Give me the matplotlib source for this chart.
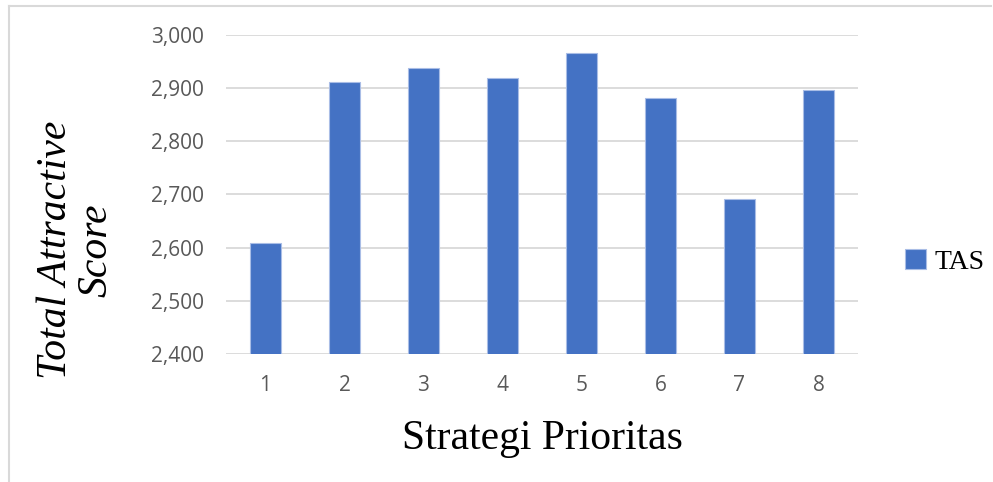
import matplotlib.pyplot as plt
from matplotlib.lines import Line2D

strategies = ['1', '2', '3', '4', '5', '6', '7', '8']
tas = [2609, 2911, 2938, 2919, 2967, 2881, 2692, 2896]
yticks = [2400, 2500, 2600, 2700, 2800, 2900, 3000]

W, H = 993, 482
fig = plt.figure(figsize=(W / 100, H / 100), dpi=100)
ax = fig.add_axes([226 / W, 1 - 354 / H, 632 / W, 319 / H])

bars = ax.bar(range(len(tas)), tas, width=0.4, color='#4472C4',
              edgecolor='#A9BDE6', linewidth=0.8, zorder=3, label='TAS')

ax.set_xlim(-0.5, len(tas) - 0.5)
ax.set_ylim(2400, 3000)
ax.set_yticks(yticks)
ax.set_yticklabels([f'{v:,}' for v in yticks])
ax.set_xticks(range(len(tas)))
ax.set_xticklabels(strategies)
ax.yaxis.grid(True, color='#D9D9D9', linewidth=1.3, zorder=0)
ax.set_axisbelow(True)
for s in ax.spines.values():
    s.set_visible(False)
ax.tick_params(axis='both', length=0, labelsize=15, labelcolor='#595959')
ax.tick_params(axis='y', pad=16)
ax.tick_params(axis='x', pad=15)
for lbl in ax.get_xticklabels() + ax.get_yticklabels():
    lbl.set_family('Open Sans')

ax.set_xlabel('Strategi Prioritas', family='Liberation Serif', fontsize=30,
              labelpad=17)
fig.text(76 / W, 1 - 250 / H, 'Total Attractive\nScore', family='Liberation Serif',
         style='italic', fontsize=30, rotation=90, ha='center', va='center',
         linespacing=1.05)

fig.legend(handles=[bars], labels=['TAS'], loc='center left',
           bbox_to_anchor=(905 / W, 1 - 262 / H), frameon=False,
           borderpad=0, borderaxespad=0,
           prop={'family': 'Liberation Serif', 'size': 20},
           handlelength=0.75, handleheight=0.75, handletextpad=0.3)

# outer chart border (top and left visible)
fig.add_artist(Line2D([9 / W, 991 / W], [1 - 6 / H, 1 - 6 / H], color='#D9D9D9',
                      linewidth=1.5, transform=fig.transFigure))
fig.add_artist(Line2D([9 / W, 9 / W], [1 - 6 / H, 0], color='#D9D9D9',
                      linewidth=1.5, transform=fig.transFigure))

fig.savefig('out.png', dpi=100)
